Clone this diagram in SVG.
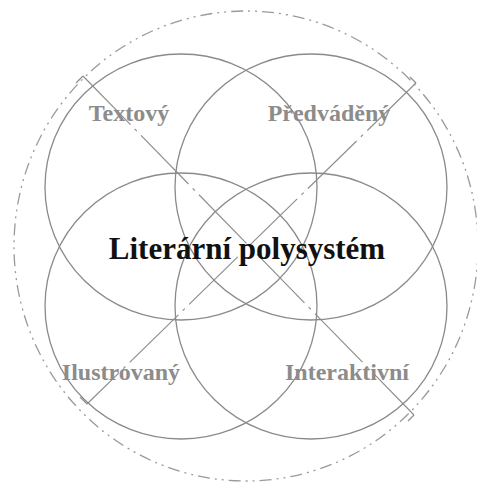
<svg xmlns="http://www.w3.org/2000/svg" width="477" height="486" viewBox="0 0 477 486">
<defs>
<style>
.bg{fill:#ffffff}
.circ{fill:none;stroke:#8a8a8a;stroke-width:1.3}
.outer{fill:none;stroke:#9a9a9a;stroke-width:1.3;stroke-dasharray:12 5 2 5 2 5}
.diag{fill:none;stroke:#8f8f8f;stroke-width:1.2;stroke-dasharray:68 6 3 6}
.tick{fill:none;stroke:#8f8f8f;stroke-width:1.2}
.lbl{font-family:"Liberation Serif","Times New Roman",serif;font-weight:bold;font-size:24px;fill:#8c8c8c;text-anchor:middle}
.main{font-family:"Liberation Serif","Times New Roman",serif;font-weight:bold;font-size:31px;fill:#111111;text-anchor:middle}
</style>
</defs>
<rect class="bg" x="0" y="0" width="477" height="486"/>
<g id="outer-boundary">
<ellipse class="outer" cx="246" cy="246" rx="232" ry="235"/>
</g>
<g id="connectors">
<line class="diag" x1="83" y1="76" x2="414" y2="415"/>
<line class="diag" x1="416" y1="83" x2="87" y2="404"/>
<line class="tick" x1="83" y1="76" x2="76" y2="83"/>
<line class="tick" x1="414" y1="415" x2="408" y2="421"/>
<line class="tick" x1="416" y1="83" x2="410" y2="77"/>
<line class="tick" x1="87" y1="404" x2="80" y2="397"/>
</g>
<g id="node-textovy">
<ellipse class="circ" cx="181" cy="187" rx="136" ry="133"/>
<text class="lbl" x="129" y="121">Textový</text>
</g>
<g id="node-predvadeny">
<ellipse class="circ" cx="311" cy="187" rx="136" ry="133"/>
<text class="lbl" x="329" y="121">Předváděný</text>
</g>
<g id="node-ilustrovany">
<ellipse class="circ" cx="181" cy="306" rx="136" ry="133"/>
<text class="lbl" x="121" y="380">Ilustrovaný</text>
</g>
<g id="node-interaktivni">
<ellipse class="circ" cx="311" cy="306" rx="136" ry="133"/>
<text class="lbl" x="347" y="380">Interaktivní</text>
</g>
<g id="node-center">
<text class="main" x="247" y="259">Literární polysystém</text>
</g>
</svg>
